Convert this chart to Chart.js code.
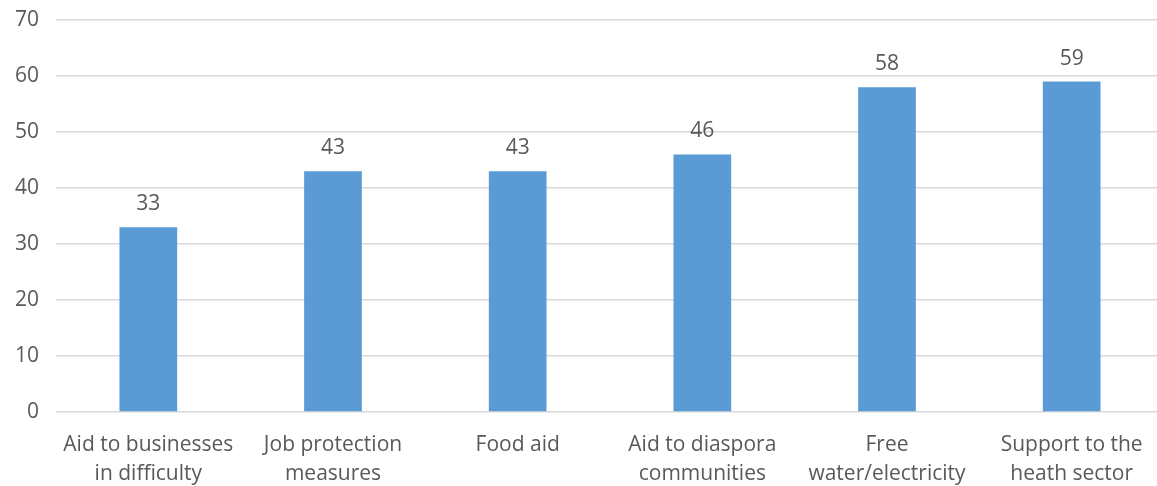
<!DOCTYPE html>
<html>
<head>
<meta charset="utf-8">
<script src="https://cdn.jsdelivr.net/npm/chart.js@4/dist/chart.umd.min.js"></script>
<style>
  html, body { margin: 0; padding: 0; background: #ffffff; overflow: hidden; }
  #wrap { width: 1157px; height: 486px; overflow: hidden; }
  #c { display: block; }
</style>
</head>
<body>
<div id="wrap"><canvas id="c" width="1164" height="486"></canvas></div>
<script>
const categories = [
  ["Aid to businesses", "in difficulty"],
  ["Job protection", "measures"],
  ["Food aid"],
  ["Aid to diaspora", "communities"],
  ["Free", "water/electricity"],
  ["Support to the", "heath sector"]
];
const values = [33, 43, 43, 46, 58, 59];
const yTicks = [0, 10, 20, 30, 40, 50, 60, 70];

const FONT = "'Open Sans', 'Noto Sans', sans-serif";
const TEXT = "#595959";

const valueLabels = {
  id: "valueLabels",
  afterDatasetsDraw(chart) {
    const ctx = chart.ctx;
    const meta = chart.getDatasetMeta(0);
    ctx.save();
    ctx.font = "21px " + FONT;
    ctx.fillStyle = TEXT;
    ctx.textAlign = "center";
    ctx.textBaseline = "alphabetic";
    meta.data.forEach((bar, i) => {
      ctx.fillText(String(values[i]), bar.x, bar.y - 17);
    });
    ctx.restore();
  }
};

new Chart(document.getElementById("c"), {
  type: "bar",
  data: {
    labels: categories,
    datasets: [{
      data: values,
      backgroundColor: "#5B9BD5",
      borderWidth: 0,
      categoryPercentage: 1,
      barPercentage: 0.3125
    }]
  },
  options: {
    responsive: false,
    animation: false,
    layout: { padding: { left: 0, right: 0, top: 20, bottom: 0 } },
    plugins: { legend: { display: false }, tooltip: { enabled: false } },
    scales: {
      x: {
        grid: { display: false },
        border: { display: false },
        ticks: { color: TEXT, font: { family: FONT, size: 21, lineHeight: 1.35 }, maxRotation: 0, autoSkip: false, padding: 11 },
        afterFit(axis) { axis.paddingLeft = 0; axis.paddingRight = 0; axis.height = 74; }
      },
      y: {
        min: 0, max: 70,
        afterBuildTicks(axis) { axis.ticks = yTicks.map(v => ({ value: v })); },
        grid: { color: "#d9d9d9", lineWidth: 1.5, drawTicks: false },
        border: { display: false },
        ticks: { color: TEXT, font: { family: FONT, size: 21 }, padding: 17 },
        afterFit(axis) { axis.width = 56; axis.paddingTop = 0; axis.paddingBottom = 0; }
      }
    }
  },
  plugins: [valueLabels]
});
</script>
</body>
</html>
